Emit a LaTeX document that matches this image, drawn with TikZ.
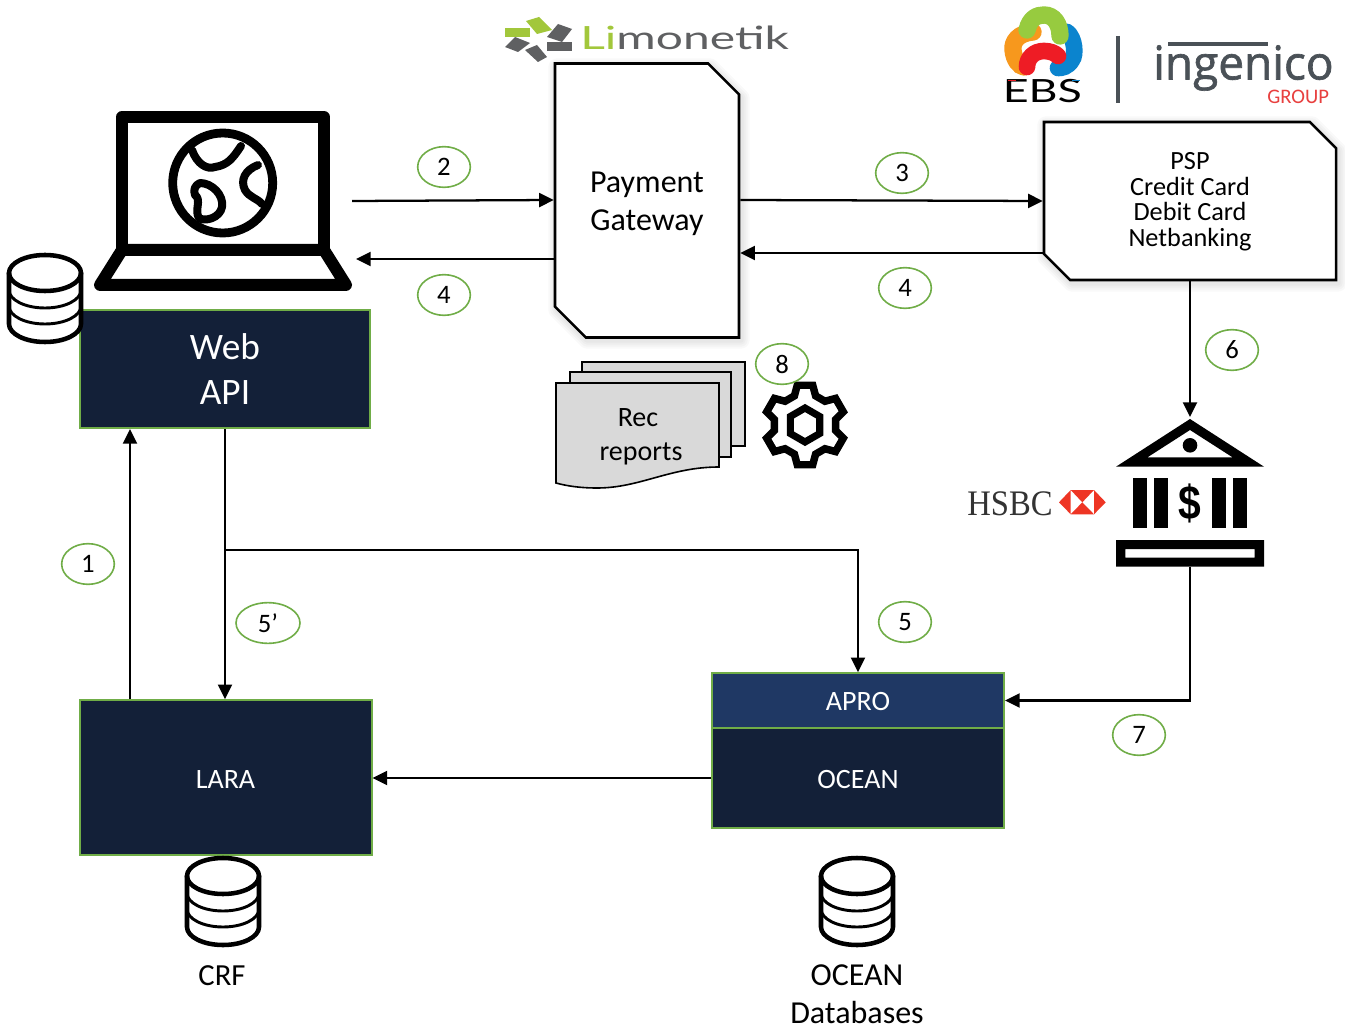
\documentclass[tikz,border=0pt]{standalone}
\usepackage{fontspec}
\usepackage{graphicx}
\setmainfont{Carlito}
\newfontfamily\latofont{Lato}
\newfontfamily\ingfont[FakeBold=1.4]{Open Sans}
\newfontfamily\hsbcfont{Liberation Serif}
\newfontfamily\bankfont{Liberation Sans}
\usetikzlibrary{arrows.meta,shapes.geometric,shapes.misc,calc}
\definecolor{navy}{HTML}{132038}
\definecolor{aprob}{HTML}{1F3864}
\definecolor{grn}{HTML}{70AD47}
\definecolor{limg}{HTML}{A2C73B}
\definecolor{limd}{HTML}{5F6062}
\definecolor{ingd}{HTML}{4A5157}
\definecolor{ingr}{HTML}{E8403F}
\definecolor{hsbcr}{HTML}{EE3524}
\definecolor{docg}{HTML}{D9D9D9}
\definecolor{ebsg}{HTML}{97CB3F}
\definecolor{ebso}{HTML}{F7981D}
\definecolor{ebsb}{HTML}{0B84CE}
\definecolor{ebsr}{HTML}{EE1C25}
\newcommand{\fs}[2]{\fontsize{#1}{#2}\selectfont}
\newcommand{\dn}[2]{\raisebox{-#1}[\height][\depth]{#2}}
\tikzset{
  x=0.75pt,y=-0.75pt,
  wire/.style={line width=1.7pt,draw=black,-{Triangle[length=11pt,width=10.5pt]}},
  stepnum/.style={ellipse,draw=grn,line width=1.2pt,fill=white,minimum width=39.5pt,minimum height=30.5pt,inner sep=0pt,font=\fs{20}{24}},
  darkbox/.style={rectangle,draw=grn,line width=1.5pt,fill=navy,text=white,inner sep=0pt,align=center},
  cutbox/.style={chamfered rectangle,chamfered rectangle corners={north east,south west},draw=black,line width=1.9pt,fill=white,inner sep=0pt,align=center},
  softshadow/.style={draw=black,opacity=0.025,line join=round},
  icon/.style={draw=black,line join=round,line cap=round},
  sheet/.style={draw=black,line width=1.2pt,fill=docg},
  dbline/.style={draw=black,line width=3.4pt,line cap=round},
  dbthin/.style={draw=black,line width=2.2pt,line cap=round},
  caption/.style={inner sep=0pt,align=center},
  pics/dbicon/.style={code={
    \fill[white] (-36,0) -- (-36,51) arc[start angle=180,end angle=0,x radius=36,y radius=18] -- (36,0) arc[start angle=0,end angle=180,x radius=36,y radius=18] -- cycle;
    \draw[dbline] (0,0) ellipse[x radius=36,y radius=18];
    \draw[dbline] (-36,0) -- (-36,51) arc[start angle=180,end angle=0,x radius=36,y radius=18] -- (36,0);
    \draw[dbthin] (-36,17) arc[start angle=180,end angle=0,x radius=36,y radius=18];
    \draw[dbthin] (-36,33) arc[start angle=180,end angle=0,x radius=36,y radius=18];
  }}
}
\begin{document}
\begin{tikzpicture}
\useasboundingbox (0,0) rectangle (1345,1030);
\fill[white] (0,0) rectangle (1345,1030);

% Soft shadows of the two cut-corner boxes
\foreach \w in {13,10,7,4}{
  \draw[softshadow,line width=\w pt] (557,67) -- (710,67) -- (741,98) -- (741,340) -- (587,340) -- (557,310) -- cycle;
  \draw[softshadow,line width=\w pt] (1046,125) -- (1312,125) -- (1338,151) -- (1338,283) -- (1072,283) -- (1046,257) -- cycle;
}

% Boxes
\node[cutbox,minimum width=138pt,minimum height=205.5pt,chamfered rectangle xsep=11.6pt,chamfered rectangle ysep=11.6pt,font=\fs{24}{28.5}] (gateway) at (647,200.5) {\dn{2.5pt}{Payment}\\\dn{2.5pt}{Gateway}};
\node[cutbox,minimum width=219pt,minimum height=118.5pt,chamfered rectangle xsep=9.8pt,chamfered rectangle ysep=9.8pt,font=\fs{19.7}{19.3}] (psp) at (1190,201) {\dn{0.5pt}{PSP}\\\dn{0.5pt}{Credit Card}\\\dn{0.5pt}{Debit Card}\\\dn{0.5pt}{Netbanking}};
\node[darkbox,minimum width=218pt,minimum height=88.5pt,font=\fs{28}{34}] (web) at (225,369) {Web\\API};
\node[darkbox,minimum width=219pt,minimum height=116pt,font=\fs{21}{25}] (lara) at (225.5,777.5) {\dn{1.5pt}{LARA}};
\node[darkbox,fill=aprob,minimum width=219pt,minimum height=41pt,font=\fs{21}{25}] (apro) at (858,700.5) {\dn{0.8pt}{APRO}};
\node[darkbox,minimum width=219pt,minimum height=75pt,font=\fs{21}{25}] (ocean) at (858,778) {\dn{1.5pt}{OCEAN}};

% Laptop
\draw[icon,line width=9pt] (122,117) rectangle (324,250);
\draw[icon,line width=9pt] (122,250) -- (324,250) -- (346,285) -- (100,285) -- cycle;
\draw[icon,line width=6.6pt] (222.7,183) circle (50);
\draw[icon,line width=6pt] (192,150) .. controls (197,164) and (207,170) .. (215,167) .. controls (228,165) and (233,158) .. (241,146);
\draw[icon,line width=6pt] (200,183) .. controls (212,183) and (224,195) .. (222,207) .. controls (220,218) and (205,222) .. (199,218) .. controls (194,210) and (202,200) .. (195,195) .. controls (193,190) and (195,185) .. (200,183) -- cycle;
\draw[icon,line width=6pt] (258,165) .. controls (245,170) and (240,180) .. (245,190) .. controls (250,198) and (257,198) .. (262,204);
\coordinate (laptopOut) at (352,201);
\coordinate (laptopIn) at (356,259);

% Database icons
\pic at (45,273) {dbicon};
\pic at (223,876) {dbicon};
\pic at (857,876) {dbicon};
\node[caption,font=\fs{23}{27}] (crf) at (222,976) {CRF};
\node[caption,font=\fs{24}{28.5}] (oceandb) at (857,994) {OCEAN\\Databases};

% Report sheets
\draw[sheet] (582,362) -- (745,362) -- (745,446) -- (582,446) -- cycle;
\draw[sheet] (570,372) -- (731,372) -- (731,457) -- (570,457) -- cycle;
\draw[sheet] (556,383) -- (719,383) -- (719,467) .. controls (670,467) and (640,488) .. (597,488) .. controls (580,488) and (567,486) .. (556,483) -- cycle;
\node[caption,font=\fs{21}{25.5}] (rec) at (641,437) {\hspace*{-4.5pt}Rec\\reports};

% Gear
\begin{scope}[shift={(805,425)}]
  \draw[icon,line width=5.6pt,line join=miter,fill=white]
    (110:31) \foreach \a in {90,30,-30,-90,-150,-210}{ -- (\a+20:31) -- (\a+11:40.5) -- (\a-11:40.5) -- (\a-20:31) } -- cycle;
  \draw[icon,line width=5.3pt,line join=miter]
    (90:17) -- (30:17) -- (-30:17) -- (-90:17) -- (-150:17) -- (150:17) -- cycle;
\end{scope}

% Bank
\fill[black,even odd rule] (1190,419) -- (1264,466.7) -- (1116,466.7) -- cycle (1190,430) -- (1147.5,457.3) -- (1232.5,457.3) -- cycle;
\fill[black] (1190,445.3) circle (7.3);
\fill[black] (1133,477.7) rectangle (1147,528.3);
\fill[black] (1154.3,477.7) rectangle (1168.3,528.3);
\fill[black] (1211.7,477.7) rectangle (1225.7,528.3);
\fill[black] (1233,477.7) rectangle (1247,528.3);
\fill[black,even odd rule] (1116,540) rectangle (1264,566.7) (1125.3,549) rectangle (1254.7,557.7);
\node[inner sep=0pt,font=\bankfont\bfseries\fs{36}{40}] (dollar) at (1190,503.5) {\scalebox{0.85}[1]{\$}};
\coordinate (bankTop) at (1190,417);
\coordinate (bankBottom) at (1190,566.7);

% HSBC logo
\node[inner sep=0pt,anchor=base west,text=black!80,font=\hsbcfont\fs{24.5}{28}] (hsbc) at (967,515) {\scalebox{1}[1.1]{HSBC}};
\fill[hsbcr] (1059,502.3) -- (1070.7,490) -- (1070.7,514.3) -- cycle;
\fill[hsbcr] (1105.7,502.3) -- (1094,490) -- (1094,514.3) -- cycle;
\fill[hsbcr] (1070.7,490) -- (1094,490) -- (1082.3,502.3) -- cycle;
\fill[hsbcr] (1070.7,514.3) -- (1094,514.3) -- (1082.3,502.3) -- cycle;

% Limonetik logo
\fill[limg] (505,28) rectangle (530,37);
\fill[limg] (526,21) -- (539,17) -- (552,30) -- (537,34) -- cycle;
\fill[limd] (547,37) -- (558,24) -- (572,29) -- (562,42) -- cycle;
\fill[limd] (547,42) rectangle (572,51);
\fill[limd] (505,47) -- (515,37) -- (530,43) -- (518,52) -- cycle;
\fill[limd] (525,50) -- (537,45) -- (547,57) -- (538,62) -- cycle;
\node[inner sep=0pt,anchor=base west,font=\latofont\fs{24}{28}] (limonetik) at (580,50) {\scalebox{1.5}[1]{{\color{limg}Li}{\color{limd}monetik}}};

% EBS logo
\draw[ebsb,line width=12.5pt,line cap=round] (1067,32) .. controls (1075,38) and (1076,55) .. (1072,60) .. controls (1068,67) and (1062,68) .. (1058,68);
\draw[ebso,line width=13pt,line cap=round] (1033,32) .. controls (1018,33) and (1012,42) .. (1013,50) .. controls (1014,60) and (1019,66) .. (1024,67);
\draw[ebsg,line width=13pt,line cap=round] (1027,30) .. controls (1030,18) and (1037,15) .. (1044,15) .. controls (1054,15) and (1060,24) .. (1060,36);
\draw[ebsr,line width=12.5pt,line cap=round] (1027,67) .. controls (1027,58) and (1034,51) .. (1044,51) .. controls (1050,51) and (1055,53) .. (1058,56);
\node[inner sep=0pt,anchor=base west,font=\latofont\fs{24}{28}] (ebs) at (1002.5,103) {\scalebox{1.4}[1]{EBS}};
\draw[ebsr,line width=1pt] (1008,80.5) -- (1016,80.5);
\draw[ebsb,line width=1pt] (1072,80.5) -- (1080,80.5);

% Ingenico logo
\draw[ingd,line width=3pt] (1118,36) -- (1118,103);
\draw[ingd,line width=2.3pt] (1168,44) -- (1268,44);
\node[inner sep=0pt,anchor=base west,text=ingd,font=\ingfont\fs{35}{40}] (ingenico) at (1153,79.5) {\scalebox{0.985}[1]{ingenico}};
\node[inner sep=0pt,anchor=base west,text=ingr,font=\fs{15.5}{18}] (group) at (1267,104) {GROUP};

% Connectors
\draw[wire] (laptopOut) -- (gateway.west |- 0,200);
\draw[wire] (gateway.west |- 0,259) -- (laptopIn);
\draw[wire] (gateway.east |- 0,200) -- (psp.west |- 0,201);
\draw[wire] (psp.west |- 0,253) -- (gateway.east |- 0,253);
\draw[wire] (psp.south) -- (bankTop);
\draw[wire] (bankBottom) |- (apro.east);
\draw[wire] (web.south) -- (web.south |- lara.north);
\coordinate (branch) at (web.south |- 0,550);
\draw[wire] (branch) -| (apro.north);
\draw[wire] (lara.north -| 130,0) -- (web.south -| 130,0);
\draw[wire] (ocean.west) -- (lara.east |- ocean.west);

% Step numbers
\node[stepnum] (n2) at (444,167) {2};
\node[stepnum] (n3) at (902,173) {3};
\node[stepnum] (n4a) at (444,295) {4};
\node[stepnum] (n4b) at (905,288) {4};
\node[stepnum] (n6) at (1232,350) {6};
\node[stepnum] (n8) at (782,364) {8};
\node[stepnum] (n1) at (88,564) {1};
\node[stepnum,minimum width=48pt] (n5p) at (268,623) {5’};
\node[stepnum] (n5) at (905,622) {5};
\node[stepnum] (n7) at (1139,735) {7};
\end{tikzpicture}
\end{document}
